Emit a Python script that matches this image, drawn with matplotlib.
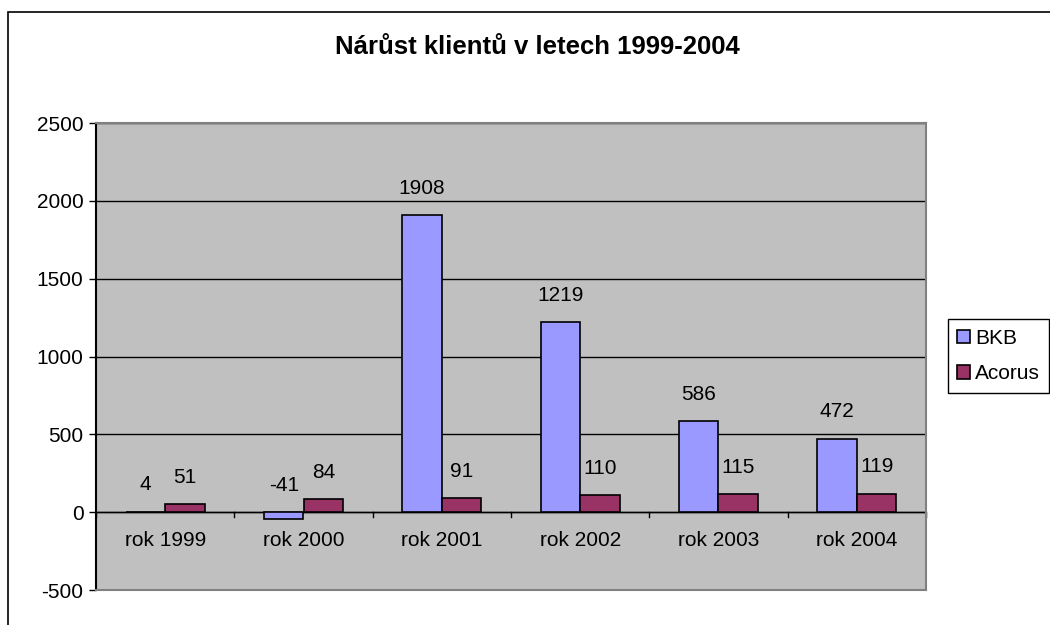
import numpy as np
import matplotlib.pyplot as plt
from matplotlib.patches import Rectangle

plt.rcParams['font.family'] = ['Liberation Sans', 'DejaVu Sans']
plt.rcParams['axes.unicode_minus'] = False

years = ['rok 1999', 'rok 2000', 'rok 2001', 'rok 2002', 'rok 2003', 'rok 2004']
bkb = [4, -41, 1908, 1219, 586, 472]
acorus = [51, 84, 91, 110, 115, 119]

fig = plt.figure(figsize=(10.5, 6.25), dpi=100)
ax = fig.add_axes([96 / 1050, 35 / 625, 830 / 1050, 467 / 625])
ax.set_facecolor('#C0C0C0')

x = np.arange(len(years))
w = 0.286
b1 = ax.bar(x - w / 2, bkb, w, color='#9999FF', edgecolor='black', linewidth=1.2, label='BKB', zorder=3)
b2 = ax.bar(x + w / 2, acorus, w, color='#993366', edgecolor='black', linewidth=1.2, label='Acorus', zorder=3)

# popisky nad sloupci
for bars, vals in [(b1, bkb), (b2, acorus)]:
    for r, v in zip(bars, vals):
        ax.annotate(str(v), (r.get_x() + r.get_width() / 2, max(v, 0)),
                    xytext=(0, 12.5), textcoords='offset points',
                    ha='center', va='bottom', fontsize=15)

ax.set_ylim(-500, 2500)
ax.set_yticks(range(-500, 2501, 500))
ax.set_xlim(-0.5, len(years) - 0.5)
ax.yaxis.grid(True, color='black', linewidth=1)
ax.set_axisbelow(True)
ax.axhline(0, color='black', linewidth=1, zorder=2)

# hranice kategorií na ose x
ax.set_xticks([])
for b in np.arange(-0.5, len(years), 1.0):
    ax.plot([b, b], [0, -30], color='black', linewidth=1, zorder=2, clip_on=False)
for i, lab in enumerate(years):
    ax.text(i, -185, lab, ha='center', va='center', fontsize=15)

ax.tick_params(axis='y', labelsize=15, length=5, width=1, color='black', pad=4)
for s in ['top', 'right', 'bottom']:
    ax.spines[s].set_color('#808080')
    ax.spines[s].set_linewidth(1.5)
ax.spines['left'].set_color('black')
ax.spines['left'].set_linewidth(1.5)

ax.legend(loc='center left', bbox_to_anchor=(948 / 1050, 1 - 356 / 625), bbox_transform=fig.transFigure,
          fontsize=15, frameon=True, fancybox=False, edgecolor='black', framealpha=1,
          handlelength=0.6, handleheight=0.6, handletextpad=0.25, borderpad=0.45, labelspacing=0.8,
          borderaxespad=0)

fig.text(537 / 1050, 1 - 47 / 625, 'Nárůst klientů v letech 1999-2004',
         ha='center', va='center', fontsize=18.5, fontweight='bold')

fig.patches.append(Rectangle((8 / 1050, -0.1), 1.2, 1.1 - 12 / 625, transform=fig.transFigure,
                             fill=False, edgecolor='black', linewidth=1.2))

plt.savefig('out.png', dpi=100)
